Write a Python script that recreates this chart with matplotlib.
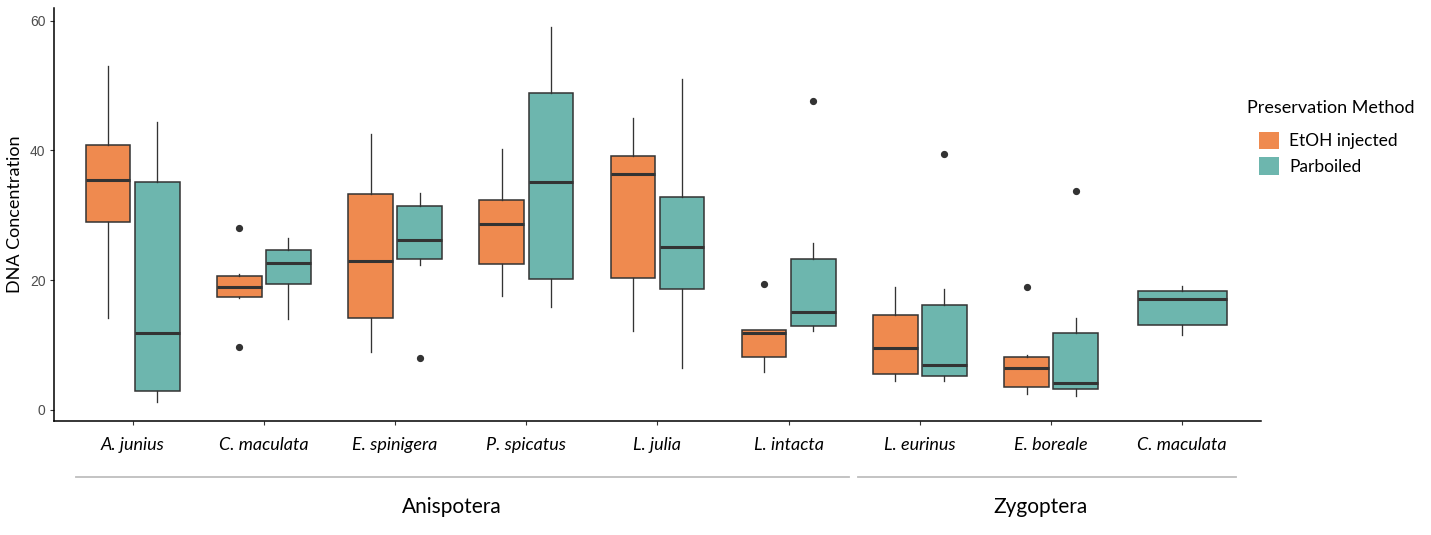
import matplotlib
matplotlib.use("Agg")
import matplotlib.pyplot as plt
from matplotlib.patches import Patch
import numpy as np

# species along the x axis
species = ["A. junius", "C. maculata", "E. spinigera", "P. spicatus", "L. julia",
           "L. intacta", "L. eurinus", "E. boreale", "C. maculata"]
groups = ["Anispotera", "Zygoptera"]

# EtOH injected (no sample for the last species)
etoh_whislo = [14.2, 17.2, 9.0, 17.5, 12.1, 5.9, 4.4, 2.5, None]
etoh_q1 = [28.9, 17.4, 14.2, 22.5, 20.4, 8.1, 5.6, 3.6, None]
etoh_med = [35.4, 18.9, 23.0, 28.7, 36.4, 11.8, 9.5, 6.4, None]
etoh_q3 = [40.8, 20.6, 33.3, 32.3, 39.1, 12.3, 14.7, 8.1, None]
etoh_whishi = [53.0, 20.9, 42.5, 40.3, 45.0, 12.4, 19.0, 8.5, None]
etoh_fliers = [[], [28.0, 9.7], [], [], [], [19.4], [], [18.9], []]

# Parboiled
parb_whislo = [1.3, 14.0, 22.3, 15.9, 6.5, 12.2, 4.4, 2.2, 11.6]
parb_q1 = [3.0, 19.4, 23.3, 20.2, 18.6, 13.0, 5.2, 3.2, 13.1]
parb_med = [11.8, 22.6, 26.2, 35.1, 25.1, 15.1, 7.0, 4.1, 17.1]
parb_q3 = [35.1, 24.7, 31.4, 48.9, 32.8, 23.3, 16.2, 11.8, 18.4]
parb_whishi = [44.4, 26.5, 33.4, 59.0, 51.0, 25.7, 18.6, 14.2, 19.1]
parb_fliers = [[], [], [8.0], [], [], [47.6], [39.4], [33.8], []]

series_names = ["EtOH injected", "Parboiled"]
colors = ["#EF8A4F", "#6DB6AE"]
edge = "#333333"

fig = plt.figure(figsize=(14.31, 5.35), dpi=100)
ax = fig.add_axes([0.0377, 0.2137, 0.8435, 0.7713])

box_w = 0.34
offset = 0.187


def make_stats(lo, q1, med, q3, hi, fl):
    stats = []
    for i in range(len(lo)):
        if med[i] is None:
            stats.append(None)
            continue
        stats.append(dict(whislo=lo[i], q1=q1[i], med=med[i], q3=q3[i],
                          whishi=hi[i], fliers=fl[i]))
    return stats


etoh = make_stats(etoh_whislo, etoh_q1, etoh_med, etoh_q3, etoh_whishi, etoh_fliers)
parb = make_stats(parb_whislo, parb_q1, parb_med, parb_q3, parb_whishi, parb_fliers)

for k, stats in enumerate([etoh, parb]):
    other = parb if k == 0 else etoh
    pos, wid, st = [], [], []
    for i, s in enumerate(stats):
        if s is None:
            continue
        if other[i] is None:
            # only one method here -> box takes the whole dodge width
            pos.append(i)
            wid.append(2 * box_w)
        else:
            pos.append(i + (offset if k else -offset))
            wid.append(box_w)
        st.append(s)
    ax.bxp(st, positions=pos, widths=wid, patch_artist=True, showcaps=False,
           boxprops=dict(facecolor=colors[k], edgecolor=edge, linewidth=1.1),
           medianprops=dict(color=edge, linewidth=2.2),
           whiskerprops=dict(color=edge, linewidth=0.95),
           flierprops=dict(marker="o", markersize=4.2, markerfacecolor=edge,
                           markeredgecolor=edge))

ax.set_xlim(-0.6, 8.6)
ax.set_ylim(-1.65, 61.96)
ax.set_xticks(range(len(species)))
ax.set_xticklabels(species, fontfamily="Lato", fontstyle="italic", fontsize=13)
ax.set_yticks([0, 20, 40, 60])
ax.set_yticklabels(["0", "20", "40", "60"], fontfamily="Liberation Sans",
                   fontsize=10, color="#4D4D4D")
ax.tick_params(axis="x", length=3, pad=9, color=edge)
ax.tick_params(axis="y", length=3, pad=3, color=edge)
ax.set_ylabel("DNA Concentration", fontfamily="Lato", fontsize=13, labelpad=5)
for side in ["top", "right"]:
    ax.spines[side].set_visible(False)
for side in ["left", "bottom"]:
    ax.spines[side].set_linewidth(1.1)
    ax.spines[side].set_color("black")

# group brackets under the species labels
trans = matplotlib.transforms.blended_transform_factory(ax.transData, fig.transFigure)
line_ends = [(-0.43, 5.46), (5.53, 8.41)]
label_x = [2.43, 6.92]
for g, (a, b), lx in zip(groups, line_ends, label_x):
    ax.plot([a, b], [0.109, 0.109], transform=trans, color="#BEBEBE",
            linewidth=1.3, clip_on=False)
    ax.text(lx, 0.052, g, transform=trans, ha="center", va="center",
            fontfamily="Lato", fontsize=15)

fig.text(1247 / 1431, 1 - 108 / 535, "Preservation Method", ha="left", va="center",
         fontfamily="Lato", fontsize=13)
handles = [Patch(facecolor=c, edgecolor="none") for c in colors]
leg = fig.legend(handles, series_names,
                 loc="upper left", bbox_to_anchor=(1259 / 1431, 1 - 132 / 535),
                 frameon=False, borderpad=0, borderaxespad=0,
                 handlelength=1.15, handleheight=1.15, handletextpad=0.6,
                 labelspacing=0.45,
                 prop=dict(family="Lato", size=12.5))

fig.savefig("out.png", dpi=100)
